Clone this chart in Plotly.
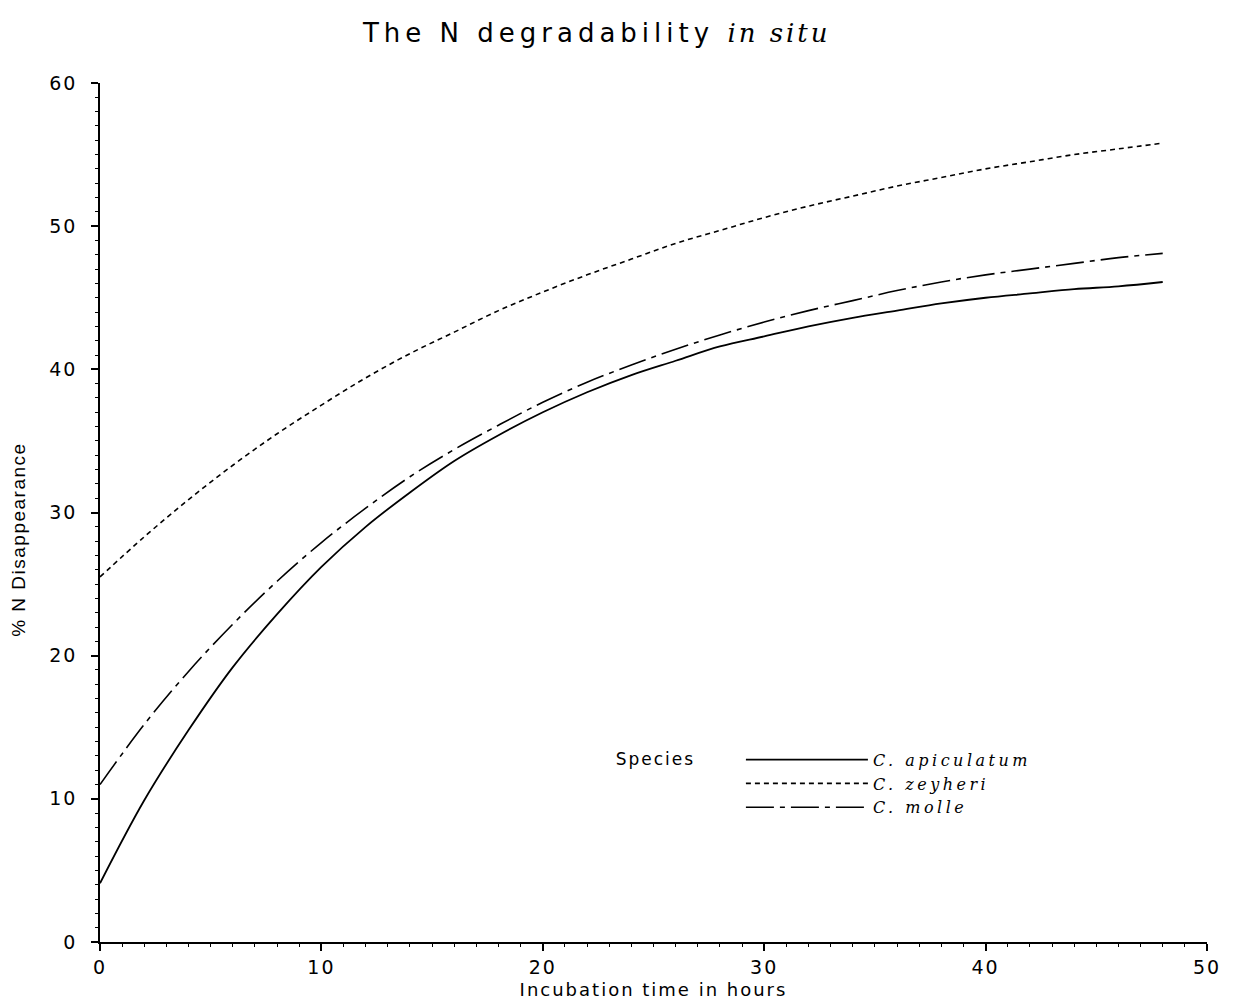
import plotly.graph_objects as go

# Incubation time (hours)
hours = [0, 2, 4, 6, 8, 10, 12, 14, 16, 18, 20, 22, 24, 26, 28, 30, 32, 34, 36, 38, 40, 42, 44, 46, 48]

# % N disappearance
apiculatum = [4.1, 9.9, 14.8, 19.2, 22.9, 26.2, 29.0, 31.4, 33.6, 35.4, 37.0, 38.4, 39.6,
              40.6, 41.6, 42.3, 43.0, 43.6, 44.1, 44.6, 45.0, 45.3, 45.6, 45.8, 46.1]
zeyheri = [25.5, 28.3, 30.9, 33.3, 35.5, 37.5, 39.4, 41.1, 42.6, 44.1, 45.4, 46.6, 47.7,
           48.8, 49.7, 50.6, 51.4, 52.1, 52.8, 53.4, 54.0, 54.5, 55.0, 55.4, 55.8]
molle = [11.0, 15.2, 18.9, 22.2, 25.2, 27.9, 30.3, 32.5, 34.4, 36.1, 37.7, 39.1, 40.3,
         41.4, 42.4, 43.3, 44.1, 44.8, 45.5, 46.1, 46.6, 47.0, 47.4, 47.8, 48.1]

series_names = ["C. apiculatum", "C. zeyheri", "C. molle"]
x_ticks = [0, 10, 20, 30, 40, 50]
y_ticks = [0, 10, 20, 30, 40, 50, 60]

SANS = "DejaVu Sans"
SERIF = "DejaVu Serif"
NBSP = "\u00a0"


def spaced(text, px):
    return "<span style='letter-spacing:%spx'>%s</span>" % (px, text)


fig = go.Figure()
styles = [
    dict(color="black", width=1.8, dash="solid"),
    dict(color="black", width=1.6, dash="5px,4px"),
    dict(color="black", width=1.6, dash="28px,6px,5px,6px"),
]
for name, vals, st in zip(series_names, [apiculatum, zeyheri, molle], styles):
    fig.add_trace(go.Scatter(
        x=hours, y=vals, mode="lines",
        name="<span style='letter-spacing:3.5px'><i>" + name + "</i></span>",
        line=dict(shape="spline", **st),
    ))

axis_common = dict(
    showline=True, linecolor="black", linewidth=1.6,
    ticks="outside", ticklen=7, tickwidth=1.5, tickcolor="black",
    showgrid=False, zeroline=False, automargin=False,
    tickfont=dict(family=SANS, size=19, color="black"),
    minor=dict(ticks="outside", ticklen=3, tickwidth=1, tickcolor="black", dtick=1, showgrid=False),
)

fig.update_layout(
    width=1219, height=992,
    paper_bgcolor="white", plot_bgcolor="white",
    margin=dict(l=92, r=20, t=75, b=58),
    title=dict(
        text="<span style='letter-spacing:5px'>The N degradability </span>"
             "<span style='font-family:DejaVu Serif;letter-spacing:3px'><i>in situ</i></span>",
        font=dict(family=SANS, size=26, color="black"),
        x=0.483, xref="container", xanchor="center",
        y=0.975, yref="container", yanchor="middle",
    ),
    xaxis=dict(
        range=[0, 50], tickvals=x_ticks,
        ticktext=[spaced(str(v), 2) for v in x_ticks],
        title=dict(text=spaced("Incubation time in hours", 2),
                   font=dict(family=SANS, size=18, color="black"), standoff=10),
        **axis_common,
    ),
    yaxis=dict(
        range=[0, 60], tickvals=y_ticks,
        ticktext=[spaced(str(v), 2) for v in y_ticks],
        ticklabelstandoff=10,
        title=dict(text=spaced("% N Disappearance" + NBSP * 8, 1.5),
                   font=dict(family="Liberation Sans", size=19, color="black"), standoff=20),
        **axis_common,
    ),
    legend=dict(
        x=0.464, y=0.232, xanchor="left", yanchor="top",
        title=dict(text=spaced("Species", 2) + "       ", side="left",
                   font=dict(family=SANS, size=17, color="black")),
        font=dict(family=SERIF, size=16, color="black"),
        bgcolor="rgba(0,0,0,0)", itemwidth=122, tracegroupgap=0,
    ),
    showlegend=True,
)

fig.write_html("out.html")
